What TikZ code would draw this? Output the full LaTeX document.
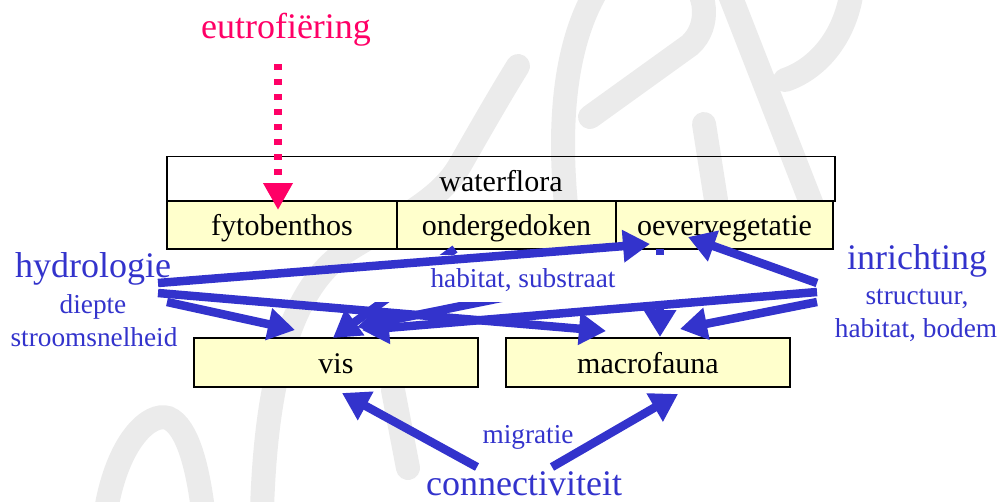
\documentclass[tikz,border=0pt]{standalone}
\usepackage{fontspec}
\setmainfont{Liberation Serif}
\usetikzlibrary{arrows.meta}
\definecolor{ink}{HTML}{3333CC}
\definecolor{eutro}{HTML}{FF0066}
\definecolor{cell}{HTML}{FFFFCC}
\definecolor{wmark}{HTML}{EBEBEB}
\begin{document}
\begin{tikzpicture}[x=1pt, y=-1pt,
  box/.style={draw=black, line width=1.4pt, fill=cell, inner sep=0pt,
    minimum height=48pt, text height=25pt, text depth=4pt,
    font=\fontsize{30}{36}\selectfont},
  big/.style={font=\fontsize{36}{42}\selectfont, text=ink, inner sep=0pt, anchor=base},
  small/.style={font=\fontsize{27.3}{32}\selectfont, text=ink, inner sep=0pt, anchor=base},
  flow/.style={draw=ink, line width=8.5pt, -{Triangle[length=27pt,width=31pt]}},
  wm/.style={draw=wmark, line width=24pt, line cap=round}]
\useasboundingbox (0,0) rectangle (1001,501);

% background watermark strokes
\begin{scope}
\clip (0,0) rectangle (1001,501);
\draw[wm] (106,510) .. controls (118,440) and (150,412) .. (168,418)
          .. controls (188,426) and (198,470) .. (203,510);
\draw[wm] (262,510) .. controls (266,380) and (290,290) .. (345,252)
          .. controls (400,218) and (440,200) .. (460,165)
          .. controls (480,130) and (500,95) .. (518,66);
\draw[wm] (566,205) .. controls (558,120) and (565,40) .. (600,-15);
\draw[wm] (590,117) -- (690,45) .. controls (712,25) and (705,-10) .. (690,-20);
\draw[wm] (704,124) -- (716,200);
\draw[wm] (728,-10) -- (812,205);
\draw[wm] (852,-10) .. controls (845,40) and (815,70) .. (785,80);
\draw[wm] (393,390) -- (408,468);
\end{scope}

% waterflora block
\node[draw=black, line width=1.4pt, inner sep=0pt, minimum width=668pt,
      minimum height=45pt, text height=27pt, text depth=2pt,
      font=\fontsize{30}{36}\selectfont] (flora) at (501,179) {waterflora};
\node[box, minimum width=230pt] (fyto)  at (282,225)   {fytobenthos};
\node[box, minimum width=219pt] (onder) at (506.5,225) {ondergedoken};
\node[box, minimum width=217pt] (oever) at (724.5,225) {oevervegetatie};

% fauna blocks
\node[box, minimum width=284pt, minimum height=49pt] (vis)   at (336,362.5) {vis};
\node[box, minimum width=284pt, minimum height=49pt] (macro) at (648,362.5) {macrofauna};

% driver labels
\node[big, text=eutro] (eutrotxt) at (286,38) {eutrofiëring};
\node[big] (hydro) at (93,277) {hydrologie};
\node[small] (diepte) at (93,313) {diepte};
\node[small] (stroom) at (94,346) {stroomsnelheid};
\node[big] (inr) at (917,269) {inrichting};
\node[small] (struct) at (917,304) {structuur,};
\node[small] (hbodem) at (916,337) {habitat, bodem};
\node[small] (migr) at (528,443) {migratie};
\node[big] (conn) at (524,495) {connectiviteit};

% connector end points
\coordinate (h1) at (158,283);
\coordinate (h2) at (158,293);
\coordinate (h3) at (167,302);
\coordinate (i1) at (817,283);
\coordinate (i2) at (817,292);
\coordinate (i3) at (817,302);
\coordinate (c1) at (477,467);
\coordinate (c2) at (552,467);
\coordinate (e0) at (278,64);
\coordinate (fytoT) at (278,210);
\coordinate (onderFoot) at (455,249);
\coordinate (oeverFoot) at (660,249);
\coordinate (sub0) at (640,270);
\coordinate (oeverL) at (650,244);
\coordinate (oeverR) at (688,237);
\coordinate (visL) at (295,330);
\coordinate (visM) at (333,338);
\coordinate (visR1) at (357,327);
\coordinate (visR2) at (362,330);
\coordinate (visB) at (342,393);
\coordinate (macroL) at (606,331);
\coordinate (macroM) at (660,337);
\coordinate (macroR) at (680,329);
\coordinate (macroB) at (678,394);

% habitat links from the flora, partly behind their label
\draw[flow] (onderFoot) -- (visM);
\draw[flow] (sub0) -- (visR1);
\draw[flow] (oeverFoot) -- (macroM);
\fill[white] (367,255) rectangle (705,302);
\node[small] (habsub) at (523,287) {habitat, substraat};

% hydrologie
\draw[flow] (h1) -- (oeverL);
\draw[flow] (h2) -- (macroL);
\draw[flow] (h3) -- (visL);

% inrichting
\draw[flow] (i1) -- (oeverR);
\draw[flow] (i2) -- (visR2);
\draw[flow] (i3) -- (macroR);

% connectiviteit
\draw[flow] (c1) -- (visB);
\draw[flow] (c2) -- (macroB);

% eutrofiering
\draw[eutro, line width=7.3pt, dash pattern=on 6pt off 9pt,
      -{Triangle[length=27pt,width=28pt]}] (e0) -- (fytoT);
\end{tikzpicture}
\end{document}
